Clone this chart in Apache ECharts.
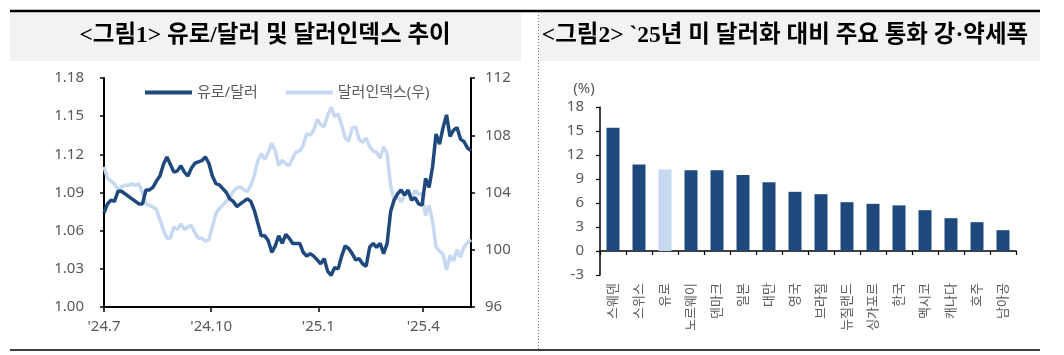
<!DOCTYPE html>
<html><head><meta charset="utf-8">
<script src="https://cdn.jsdelivr.net/npm/echarts@6/dist/echarts.min.js"></script>
<style>html,body{margin:0;padding:0;background:#fff}#c{width:1064px;height:355px}</style>
</head><body><div id="c"></div>
<script>
// ---- Figure 1 data: sampled every 3 days from 2024-07-01 ----
const startDate = '2024-07-01';
const endDate = '2025-05-12';
const stepDays = 3;
const eurUsd = [
  1.074, 1.081, 1.084, 1.083, 1.091, 1.091, 1.089, 1.087, 1.085, 1.083,
  1.081, 1.081, 1.092, 1.092, 1.094, 1.099, 1.103, 1.112, 1.118, 1.112,
  1.106, 1.107, 1.111, 1.106, 1.103, 1.109, 1.113, 1.114, 1.115, 1.118,
  1.113, 1.103, 1.097, 1.096, 1.093, 1.090, 1.085, 1.083, 1.079, 1.081,
  1.083, 1.085, 1.083, 1.076, 1.066, 1.056, 1.056, 1.052, 1.043, 1.048,
  1.056, 1.050, 1.057, 1.054, 1.050, 1.050, 1.050, 1.043, 1.040, 1.042,
  1.040, 1.037, 1.034, 1.038, 1.028, 1.025, 1.031, 1.030, 1.040, 1.048,
  1.046, 1.042, 1.037, 1.038, 1.034, 1.032, 1.047, 1.050, 1.047, 1.050,
  1.042, 1.050, 1.075, 1.084, 1.089, 1.092, 1.088, 1.092, 1.084, 1.086,
  1.081, 1.080, 1.101, 1.094, 1.110, 1.136, 1.128, 1.141, 1.151, 1.134,
  1.139, 1.141, 1.132, 1.130, 1.125, 1.123
];
const dollarIndex = [
  105.8, 105.0, 104.8, 104.6, 104.2, 104.4, 104.5, 104.5, 104.6, 104.5,
  104.6, 104.0, 103.2, 103.1, 103.0, 102.8, 102.1, 101.4, 100.8, 100.8,
  101.6, 101.4, 101.8, 101.4, 101.6, 101.7, 101.2, 100.8, 100.8, 100.6,
  100.7, 101.6, 102.5, 102.9, 103.1, 103.4, 103.65, 104.1, 104.3, 104.4,
  104.2, 104.05, 104.5, 105.2, 106.2, 106.7, 106.3, 106.8, 107.45, 106.9,
  105.9, 106.25, 106.0, 105.9, 106.4, 106.85, 106.9, 107.3, 108.1, 108.0,
  108.35, 109.1, 108.75, 108.6, 109.4, 109.95, 109.3, 109.5, 108.7, 107.8,
  107.6, 108.5, 108.6, 107.7, 107.5, 107.8, 107.2, 106.9, 106.8, 106.4,
  107.2, 106.7, 104.5, 103.5, 103.7, 103.35, 103.8, 104.05, 103.5, 104.15,
  103.9, 103.9, 102.4, 103.1, 102.0, 100.2, 99.9, 99.7, 98.6, 99.6,
  99.2, 100.0, 99.5, 100.2, 100.5, 100.7
];
const tickDates = ['2024-07-01', '2024-10-01', '2025-01-01', '2025-04-01'];
const tickLabels = ["'24.7", "'24.10", "'25.1", "'25.4"];
const seriesNames = ['유로/달러', '달러인덱스(우)'];

// ---- Figure 2 data ----
const currencies = ['스웨덴', '스위스', '유로', '노르웨이', '덴마크', '일본', '대만', '영국', '브라질', '뉴질랜드', '싱가포르', '한국', '멕시코', '캐나다', '호주', '남아공'];
const changes = [15.4, 10.8, 10.2, 10.1, 10.1, 9.5, 8.6, 7.4, 7.1, 6.1, 5.9, 5.7, 5.1, 4.1, 3.6, 2.6];
const highlighted = '유로';

const title1 = '<그림1> 유로/달러 및 달러인덱스 추이';
const title2 = '<그림2> `25년 미 달러화 대비 주요 통화 강·약세폭';
const unitLabel = '(%)';

const DARK = '#1F497D', LIGHT = '#C6D9F1', TXT = '#595959';
const FONT = "'Noto Sans', 'Noto Sans CJK KR', sans-serif";
const TITLE_FONT = "bold 23.5px 'Liberation Serif', 'Noto Sans CJK KR', serif";
const DAY = 86400000;
function ts(s) { const p = s.split('-').map(Number); return Date.UTC(p[0], p[1] - 1, p[2]); }
const t0 = ts(startDate);
const dates = eurUsd.map((_, i) => t0 + i * stepDays * DAY);
const tickTs = tickDates.map(ts);

const chart = echarts.init(document.getElementById('c'), null, { renderer: 'canvas' });
chart.setOption({
  animation: false,
  backgroundColor: '#fff',
  textStyle: { fontFamily: FONT },
  graphic: [
    { type: 'rect', shape: { x: 10, y: 12, width: 511, height: 49 }, style: { fill: '#F2F2F2' }, silent: true },
    { type: 'rect', shape: { x: 539, y: 12, width: 501, height: 49 }, style: { fill: '#F2F2F2' }, silent: true },
    { type: 'line', shape: { x1: 10, y1: 11, x2: 1040, y2: 11 }, style: { stroke: '#000', lineWidth: 2.5 }, silent: true },
    { type: 'line', shape: { x1: 538.5, y1: 12, x2: 538.5, y2: 350 }, style: { stroke: '#777', lineWidth: 1, lineDash: [1, 2] }, silent: true },
    { type: 'line', shape: { x1: 10, y1: 350, x2: 1040, y2: 350 }, style: { stroke: '#000', lineWidth: 1.5 }, silent: true },
    { type: 'text', x: 265, y: 36, style: { text: title1, fill: '#000', font: TITLE_FONT, align: 'center', verticalAlign: 'middle' } },
    { type: 'text', x: 785, y: 36, style: { text: title2, fill: '#000', font: TITLE_FONT, align: 'center', verticalAlign: 'middle' } },
    { type: 'text', x: 584, y: 89, style: { text: unitLabel, fill: TXT, font: "15px 'Noto Sans', 'Noto Sans CJK KR', sans-serif", align: 'center', verticalAlign: 'middle' } }
  ],
  legend: {
    left: 140, top: 80, icon: 'rect', itemWidth: 47, itemHeight: 4, itemGap: 28,
    textStyle: { color: TXT, fontSize: 15, fontFamily: FONT },
    data: seriesNames
  },
  grid: [
    { left: 104, top: 78, width: 367, height: 229 },
    { left: 600, top: 107, width: 416, height: 168 }
  ],
  xAxis: [
    {
      gridIndex: 0, type: 'value', min: ts(startDate), max: ts(endDate),
      axisLine: { lineStyle: { color: '#000', width: 2 } },
      axisTick: { show: true, length: 5, customValues: tickTs, lineStyle: { color: '#000', width: 1.5 } },
      axisLabel: { customValues: tickTs, color: TXT, fontSize: 15, margin: 12, fontFamily: FONT,
        formatter: v => { const i = tickTs.indexOf(v); return i >= 0 ? tickLabels[i] : ''; } },
      splitLine: { show: false }
    },
    {
      gridIndex: 1, type: 'category', data: currencies,
      axisLine: { onZero: true, lineStyle: { color: '#000', width: 1.5 } },
      axisTick: { show: true, length: 4, lineStyle: { color: '#000', width: 1.2 } },
      axisLabel: { rotate: 90, interval: 0, margin: 8, align: 'right', verticalAlign: 'middle',
        color: TXT, fontSize: 13, fontFamily: FONT }
    }
  ],
  yAxis: [
    {
      gridIndex: 0, type: 'value', min: 1.00, max: 1.18, interval: 0.03,
      axisLine: { show: true, lineStyle: { color: '#000', width: 2 } },
      axisTick: { show: true, length: 4, lineStyle: { color: '#000', width: 1.5 } },
      axisLabel: { color: TXT, fontSize: 15, margin: 20, fontFamily: FONT, formatter: v => v.toFixed(2) },
      splitLine: { show: false }
    },
    {
      gridIndex: 0, type: 'value', position: 'right', min: 96, max: 112, interval: 4,
      axisLine: { show: true, lineStyle: { color: '#000', width: 2 } },
      axisTick: { show: true, length: 4, lineStyle: { color: '#000', width: 1.5 } },
      axisLabel: { color: TXT, fontSize: 15, margin: 14, fontFamily: FONT },
      splitLine: { show: false }
    },
    {
      gridIndex: 1, type: 'value', min: -3, max: 18, interval: 3,
      axisLine: { show: true, lineStyle: { color: '#000', width: 1.5 } },
      axisTick: { show: true, length: 4, lineStyle: { color: '#000', width: 1.2 } },
      axisLabel: { color: TXT, fontSize: 15, margin: 16, fontFamily: FONT },
      splitLine: { show: false }
    }
  ],
  series: [
    {
      name: seriesNames[0], type: 'line', xAxisIndex: 0, yAxisIndex: 0, z: 3,
      showSymbol: false, symbol: 'none', color: DARK,
      lineStyle: { color: DARK, width: 3.5 },
      data: eurUsd.map((v, i) => [dates[i], v])
    },
    {
      name: seriesNames[1], type: 'line', xAxisIndex: 0, yAxisIndex: 1, z: 2,
      showSymbol: false, symbol: 'none', color: LIGHT,
      lineStyle: { color: LIGHT, width: 3.5 },
      data: dollarIndex.map((v, i) => [dates[i], v])
    },
    {
      type: 'bar', xAxisIndex: 1, yAxisIndex: 2, barWidth: 13,
      data: changes.map((v, i) => ({ value: v, itemStyle: { color: currencies[i] === highlighted ? LIGHT : DARK } }))
    }
  ]
});
</script></body></html>
